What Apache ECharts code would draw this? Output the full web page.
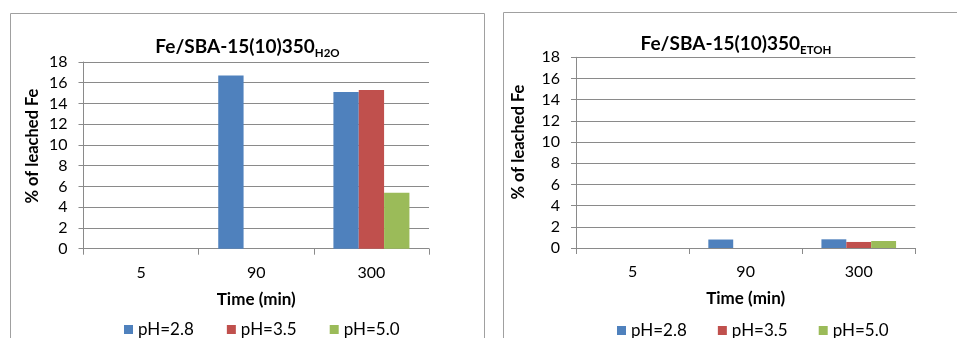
<!DOCTYPE html>
<html>
<head>
<meta charset="utf-8">
<script src="https://cdn.jsdelivr.net/npm/echarts@6/dist/echarts.min.js"></script>
<style>
html,body{margin:0;padding:0;background:#fff;}
#c{width:957px;height:338px;}
</style>
</head>
<body>
<div id="c"></div>
<script>
// ---- data ----
const categories = ['5', '90', '300'];
const seriesNames = ['pH=2.8', 'pH=3.5', 'pH=5.0'];
const h2o_pH28 = [0, 16.7, 15.1];
const h2o_pH35 = [0, 0, 15.3];
const h2o_pH50 = [0, 0, 5.4];
const etoh_pH28 = [0, 0.8, 0.82];
const etoh_pH35 = [0, 0, 0.57];
const etoh_pH50 = [0, 0, 0.66];
const yMin = 0, yMax = 18, yStep = 2;
const titleMain = 'Fe/SBA-15(10)350';
const titleSubLeft = 'H2O';
const titleSubRight = 'ETOH';
const yName = '% of leached Fe';
const xName = 'Time (min)';

const colors = ['#4F81BD', '#C0504D', '#9BBB59'];
const FONT = 'Lato, "Noto Sans", sans-serif';
const gridColor = '#8a8a8a';

function xAx(gi) {
  return {
    type: 'category', gridIndex: gi, data: categories,
    boundaryGap: true,
    axisLine: { lineStyle: { color: gridColor, width: 1 } },
    axisTick: { show: true, length: 6, lineStyle: { color: gridColor } },
    axisLabel: { color: '#000', fontSize: 16, fontFamily: FONT, margin: 16 },
    name: xName, nameLocation: 'middle', nameGap: 42,
    nameTextStyle: { color: '#000', fontSize: 17, fontWeight: 'bold', fontFamily: FONT }
  };
}
function yAx(gi) {
  return {
    type: 'value', gridIndex: gi, min: yMin, max: yMax, interval: yStep,
    axisLine: { show: true, lineStyle: { color: gridColor, width: 1 } },
    axisTick: { show: true, inside: false, length: 5, lineStyle: { color: gridColor } },
    splitLine: { show: true, lineStyle: { color: gridColor, width: 1 } },
    axisLabel: { color: '#000', fontSize: 16, fontFamily: FONT, margin: 16 }
  };
}
function bar(name, data, ci, gi) {
  return {
    type: 'bar', name: name, data: data, xAxisIndex: gi, yAxisIndex: gi,
    itemStyle: { color: colors[ci] },
    barGap: '0%', barCategoryGap: '34%', animation: false
  };
}
function titleText(x, y, sub) {
  return {
    type: 'text', x: x, y: y,
    style: {
      text: '{a|' + titleMain + '}{b|' + sub + '}',
      align: 'center', verticalAlign: 'middle',
      rich: {
        a: { fontSize: 19, fontWeight: 'bold', fontFamily: FONT, fill: '#000', lineHeight: 24 },
        b: { fontSize: 11.5, fontWeight: 'bold', fontFamily: FONT, fill: '#000', lineHeight: 13, verticalAlign: 'bottom' }
      }
    }
  };
}
function yNameText(x, y) {
  return {
    type: 'text', x: x, y: y, rotation: Math.PI / 2,
    style: { text: yName, align: 'center', verticalAlign: 'middle',
      font: 'bold 16.5px ' + FONT, fill: '#000' }
  };
}

const chart = echarts.init(document.getElementById('c'), null, { renderer: 'canvas' });
chart.setOption({
  animation: false,
  color: colors,
  grid: [
    { left: 83.5, top: 62, width: 345.5, height: 186.7 },
    { left: 576, top: 57.3, width: 339.3, height: 190.7 }
  ],
  xAxis: [xAx(0), xAx(1)],
  yAxis: [yAx(0), yAx(1)],
  legend: [
    { data: seriesNames, left: 119, top: 316, icon: 'rect', itemWidth: 9, itemHeight: 9, itemGap: 33,
      textStyle: { fontSize: 17, fontFamily: FONT, color: '#000' } },
    { data: seriesNames, left: 612, top: 317, icon: 'rect', itemWidth: 9, itemHeight: 9, itemGap: 31,
      textStyle: { fontSize: 17, fontFamily: FONT, color: '#000' } }
  ],
  series: [
    bar(seriesNames[0], h2o_pH28, 0, 0),
    bar(seriesNames[1], h2o_pH35, 1, 0),
    bar(seriesNames[2], h2o_pH50, 2, 0),
    bar(seriesNames[0], etoh_pH28, 0, 1),
    bar(seriesNames[1], etoh_pH35, 1, 1),
    bar(seriesNames[2], etoh_pH50, 2, 1)
  ],
  graphic: [
    { type: 'rect', shape: { x: 10.5, y: 13.5, width: 474, height: 340 },
      style: { fill: 'none', stroke: '#a0a0a0', lineWidth: 1 } },
    { type: 'rect', shape: { x: 503.5, y: 12.5, width: 480, height: 340 },
      style: { fill: 'none', stroke: '#a0a0a0', lineWidth: 1 } },
    titleText(247.5, 47, titleSubLeft),
    titleText(736, 44, titleSubRight),
    yNameText(33, 146),
    yNameText(519, 142)
  ]
});
</script>
</body>
</html>
